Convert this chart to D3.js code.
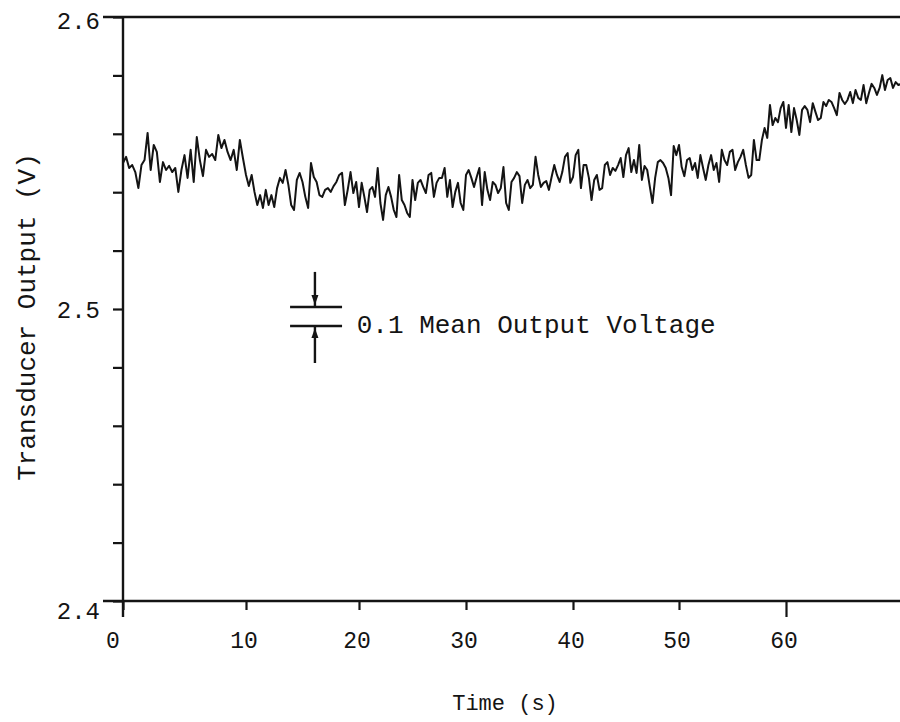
<!DOCTYPE html>
<html><head><meta charset="utf-8">
<script src="https://cdn.jsdelivr.net/npm/d3@7/dist/d3.min.js"></script>
<style>html,body{margin:0;padding:0;background:#fff;}svg{display:block;}</style>
</head><body><svg id="chart" width="900" height="722"></svg>
<script>
const trace0to10 = [2.5500,2.5521,2.5483,2.5493,2.5469,2.5414,2.5493,2.5510,2.5603,2.5476,
  2.5562,2.5538,2.5435,2.5503,2.5476,2.5490,2.5469,2.5483,2.5401,2.5476,
  2.5527,2.5449,2.5545,2.5435,2.5589,2.5510,2.5455,2.5545,2.5521,2.5531,
  2.5510,2.5596,2.5551,2.5579,2.5538,2.5510,2.5545,2.5476,2.5579,2.5517];
const trace10to20 = [2.5459,2.5421,2.5459,2.5401,2.5356,2.5390,2.5346,2.5408,2.5356,2.5390,
  2.5349,2.5414,2.5449,2.5432,2.5476,2.5425,2.5356,2.5339,2.5442,2.5466,
  2.5435,2.5384,2.5346,2.5500,2.5452,2.5435,2.5390,2.5384,2.5408,2.5414,
  2.5401,2.5421,2.5435,2.5459,2.5466,2.5356,2.5408,2.5469,2.5397,2.5435];
const trace20to30 = [2.5349,2.5432,2.5384,2.5332,2.5408,2.5418,2.5384,2.5483,2.5363,2.5305,
  2.5390,2.5418,2.5384,2.5339,2.5315,2.5459,2.5373,2.5356,2.5329,2.5315,
  2.5442,2.5373,2.5432,2.5442,2.5418,2.5397,2.5459,2.5466,2.5384,2.5432,
  2.5449,2.5449,2.5483,2.5384,2.5442,2.5349,2.5401,2.5432,2.5363,2.5339];
const trace30to40 = [2.5459,2.5476,2.5449,2.5418,2.5452,2.5483,2.5356,2.5469,2.5408,2.5373,
  2.5435,2.5425,2.5397,2.5414,2.5486,2.5363,2.5339,2.5435,2.5449,2.5469,
  2.5455,2.5363,2.5425,2.5442,2.5414,2.5425,2.5521,2.5459,2.5418,2.5432,
  2.5438,2.5408,2.5452,2.5493,2.5459,2.5435,2.5469,2.5521,2.5534,2.5432];
const trace40to50 = [2.5452,2.5527,2.5545,2.5414,2.5493,2.5493,2.5449,2.5373,2.5442,2.5459,
  2.5408,2.5414,2.5493,2.5503,2.5459,2.5483,2.5473,2.5493,2.5517,2.5452,
  2.5527,2.5551,2.5469,2.5510,2.5466,2.5562,2.5442,2.5490,2.5476,2.5418,
  2.5363,2.5449,2.5503,2.5510,2.5500,2.5483,2.5449,2.5390,2.5558,2.5527];
const trace50to60 = [2.5562,2.5486,2.5455,2.5510,2.5517,2.5476,2.5500,2.5449,2.5527,2.5483,
  2.5442,2.5493,2.5527,2.5476,2.5500,2.5435,2.5545,2.5510,2.5493,2.5538,
  2.5545,2.5476,2.5503,2.5521,2.5545,2.5493,2.5449,2.5459,2.5579,2.5510,
  2.5510,2.5579,2.5620,2.5586,2.5699,2.5630,2.5654,2.5640,2.5688,2.5709];
const trace60toEnd = [2.5620,2.5699,2.5606,2.5688,2.5647,2.5596,2.5682,2.5695,2.5682,2.5640,
  2.5705,2.5675,2.5647,2.5654,2.5709,2.5695,2.5716,2.5709,2.5688,2.5664,
  2.5740,2.5716,2.5702,2.5716,2.5743,2.5705,2.5750,2.5723,2.5716,2.5767,
  2.5705,2.5740,2.5771,2.5757,2.5733,2.5757,2.5801,2.5750,2.5784,2.5791,
  2.5757,2.5777,2.5767,2.5771];
const sampleInterval = 0.25; // s

const xTickValues = [0, 10, 20, 30, 40, 50, 60];
const yTickValues = [2.40, 2.42, 2.44, 2.46, 2.48, 2.50, 2.52, 2.54, 2.56, 2.58, 2.60];
const yLabelValues = [2.4, 2.5, 2.6];
const yLabelTexts = ["2.4", "2.5", "2.6"];
const xAxisTitle = "Time (s)";
const yAxisTitle = "Transducer Output (V)";
const noteText = "0.1 Mean Output Voltage";

const traceValues = [].concat(trace0to10, trace10to20, trace20to30, trace30to40,
  trace40to50, trace50to60, trace60toEnd);
const traceData = traceValues.map((v, i) => ({ t: i * sampleInterval, v }));

const svg = d3.select("#chart");
const ink = "#141414";
const mono = "'Liberation Mono','DejaVu Sans Mono',monospace";

const x = d3.scaleLinear()
  .domain([0, 10, 20, 30, 40, 50, 60, 70])
  .range([123, 246, 359, 466, 573, 679, 786, 893]);
const y = d3.scaleLinear().domain([2.4, 2.6]).range([601, 17]);

// trace
svg.append("clipPath").attr("id", "plotclip")
  .append("rect").attr("x", 124).attr("y", 10).attr("width", 800).attr("height", 590);
svg.append("path")
  .datum(traceData)
  .attr("clip-path", "url(#plotclip)")
  .attr("fill", "none")
  .attr("stroke", ink)
  .attr("stroke-width", 2)
  .attr("stroke-linejoin", "round")
  .attr("d", d3.line().x(d => x(d.t)).y(d => y(d.v)));

// y axis (minor ticks)
const yAxisG = svg.append("g").attr("transform", `translate(${x(0)},0)`)
  .call(d3.axisLeft(y).tickValues(yTickValues).tickSize(10).tickSizeOuter(0).tickFormat(""));
yAxisG.select(".domain").remove();
yAxisG.selectAll(".tick line").attr("stroke", ink).attr("stroke-width", 2.2);

// x axis ticks
const xAxisG = svg.append("g").attr("transform", `translate(0,${y(2.4)})`)
  .call(d3.axisBottom(x).tickValues(xTickValues).tickSize(9).tickSizeOuter(0).tickFormat(""));
xAxisG.select(".domain").remove();
xAxisG.selectAll(".tick line").attr("stroke", ink).attr("stroke-width", 2.2)
  .attr("y2", d => d === 60 ? 16 : 9);

// frame lines
svg.append("line").attr("x1", x(0)).attr("x2", x(0)).attr("y1", y(2.6)).attr("y2", y(2.4) + 16)
  .attr("stroke", ink).attr("stroke-width", 2.4);
svg.append("line").attr("x1", x(0) - 20).attr("x2", 900).attr("y1", y(2.6)).attr("y2", y(2.6))
  .attr("stroke", ink).attr("stroke-width", 2.4);
svg.append("line").attr("x1", x(0) - 20).attr("x2", 900).attr("y1", y(2.4)).attr("y2", y(2.4))
  .attr("stroke", ink).attr("stroke-width", 2.4);

// y labels
svg.append("g").selectAll("text").data(yLabelValues).join("text")
  .attr("x", x(0) - 23)
  .attr("y", d => y(d) + (d === 2.4 ? 10 : d === 2.6 ? 4 : 1))
  .attr("dy", "0.35em")
  .attr("text-anchor", "end")
  .attr("font-family", mono).attr("font-size", 24).attr("fill", ink)
  .text((d, i) => yLabelTexts[i]);

// x labels
svg.append("g").selectAll("text").data(xTickValues).join("text")
  .attr("x", d => x(d) + (d === 0 ? -10 : -2))
  .attr("y", 648)
  .attr("text-anchor", "middle")
  .attr("font-family", mono).attr("font-size", 23).attr("fill", ink)
  .text(d => d);

// axis titles
svg.append("text").attr("x", 505).attr("y", 710).attr("text-anchor", "middle")
  .attr("font-family", mono).attr("font-size", 22).attr("fill", ink).text(xAxisTitle);
svg.append("text").attr("transform", "translate(35,317) rotate(-90)").attr("text-anchor", "middle")
  .attr("font-family", mono).attr("font-size", 26).attr("fill", ink).text(yAxisTitle);

// annotation
const note = { tCenter: 16.1, tLeft: 13.9, tRight: 18.5, tText: 19.8,
  vTop: 2.5127, vUpper: 2.5007, vLower: 2.4942, vBottom: 2.4815, vText: 2.4918 };
const ng = svg.append("g").attr("stroke", ink).attr("stroke-width", 2.4);
ng.append("line").attr("x1", x(note.tLeft)).attr("x2", x(note.tRight))
  .attr("y1", y(note.vUpper)).attr("y2", y(note.vUpper));
ng.append("line").attr("x1", x(note.tLeft)).attr("x2", x(note.tRight))
  .attr("y1", y(note.vLower)).attr("y2", y(note.vLower));
ng.append("line").attr("x1", x(note.tCenter)).attr("x2", x(note.tCenter))
  .attr("y1", y(note.vTop)).attr("y2", y(note.vUpper));
ng.append("line").attr("x1", x(note.tCenter)).attr("x2", x(note.tCenter))
  .attr("y1", y(note.vLower)).attr("y2", y(note.vBottom));
const cx = x(note.tCenter), yu = y(note.vUpper), yl = y(note.vLower);
svg.append("path").attr("fill", ink)
  .attr("d", `M${cx - 3.5},${yu - 12} L${cx + 3.5},${yu - 12} L${cx},${yu - 2} Z`);
svg.append("path").attr("fill", ink)
  .attr("d", `M${cx - 3.5},${yl + 12} L${cx + 3.5},${yl + 12} L${cx},${yl + 2} Z`);
svg.append("text").attr("x", x(note.tText)).attr("y", y(note.vText))
  .attr("font-family", mono).attr("font-size", 26).attr("fill", ink).text(noteText);
</script>
</body></html>
